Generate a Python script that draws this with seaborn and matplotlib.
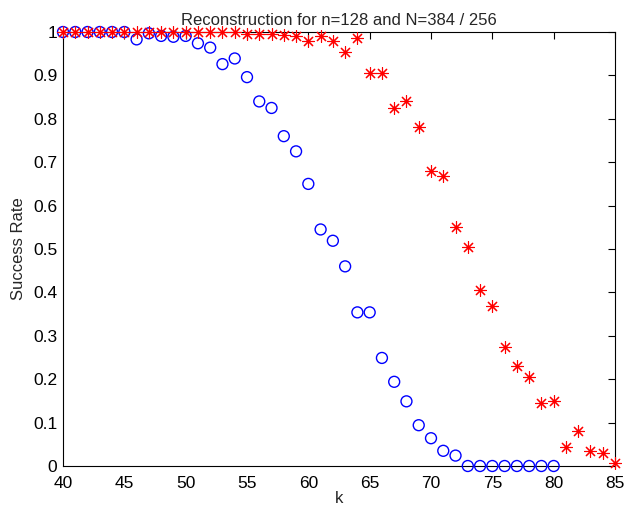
import numpy as np
import pandas as pd
import matplotlib
matplotlib.use("Agg")
import matplotlib.pyplot as plt
import seaborn as sns

k_blue = list(range(40, 81))
rate_blue = [1, 1, 1, 1, 1, 1, 0.983, 0.997, 0.991, 0.989, 0.991, 0.974, 0.964, 0.926,
             0.939, 0.896, 0.84, 0.825, 0.76, 0.725, 0.65, 0.545, 0.519, 0.46, 0.354,
             0.354, 0.249, 0.194, 0.149, 0.094, 0.064, 0.035, 0.024, 0, 0, 0, 0, 0, 0, 0, 0]
k_red = list(range(40, 86))
rate_red = [1, 1, 1, 1, 1, 1, 1, 1, 1, 1, 1, 1, 1, 1, 1, 0.995, 0.995, 0.995, 0.994,
            0.991, 0.98, 0.991, 0.98, 0.955, 0.987, 0.906, 0.906, 0.824, 0.841, 0.78,
            0.68, 0.668, 0.55, 0.505, 0.405, 0.369, 0.275, 0.23, 0.204, 0.145, 0.149,
            0.044, 0.081, 0.035, 0.029, 0.008]
x_ticks = list(range(40, 86, 5))
y_ticks = [0, 0.1, 0.2, 0.3, 0.4, 0.5, 0.6, 0.7, 0.8, 0.9, 1]
y_labels = ['0', '0.1', '0.2', '0.3', '0.4', '0.5', '0.6', '0.7', '0.8', '0.9', '1']

sns.set_style("white")
plt.rcParams['font.family'] = ['Liberation Sans', 'DejaVu Sans']

fig = plt.figure(figsize=(6.24, 5.08), dpi=100)
ax = fig.add_axes([63/624, 1-466/508, (615-63)/624, (466-32)/508])

df_b = pd.DataFrame({'k': k_blue, 'rate': rate_blue})
df_r = pd.DataFrame({'k': k_red, 'rate': rate_red})

sns.scatterplot(data=df_b, x='k', y='rate', ax=ax, marker='o', s=62,
                facecolors='none', edgecolor='#0000ff', linewidth=1.0, clip_on=False, zorder=3)
sns.scatterplot(data=df_r, x='k', y='rate', ax=ax, marker=(8, 2, 0), s=75,
                color='#ff0000', edgecolor='#ff0000', linewidth=0.8, clip_on=False, zorder=4)

ax.set_xlim(40, 85)
ax.set_ylim(0, 1)
ax.set_xticks(x_ticks)
ax.set_xticklabels([str(v) for v in x_ticks])
ax.set_yticks(y_ticks)
ax.set_yticklabels(y_labels)
ax.tick_params(direction='in', length=5, width=0.8, top=True, right=True,
               labelsize=12.5, colors='black')
ax.tick_params(axis='x', pad=7)
ax.tick_params(axis='y', pad=4)
for sp in ax.spines.values():
    sp.set_visible(True)
    sp.set_color('black')
    sp.set_linewidth(0.8)
ax.set_xlabel('k', fontsize=12, labelpad=0)
ax.set_ylabel('Success Rate', fontsize=12, labelpad=5)
ax.set_title('Reconstruction for n=128 and N=384 / 256', fontsize=12, pad=5)

fig.savefig('out.png', dpi=100)
